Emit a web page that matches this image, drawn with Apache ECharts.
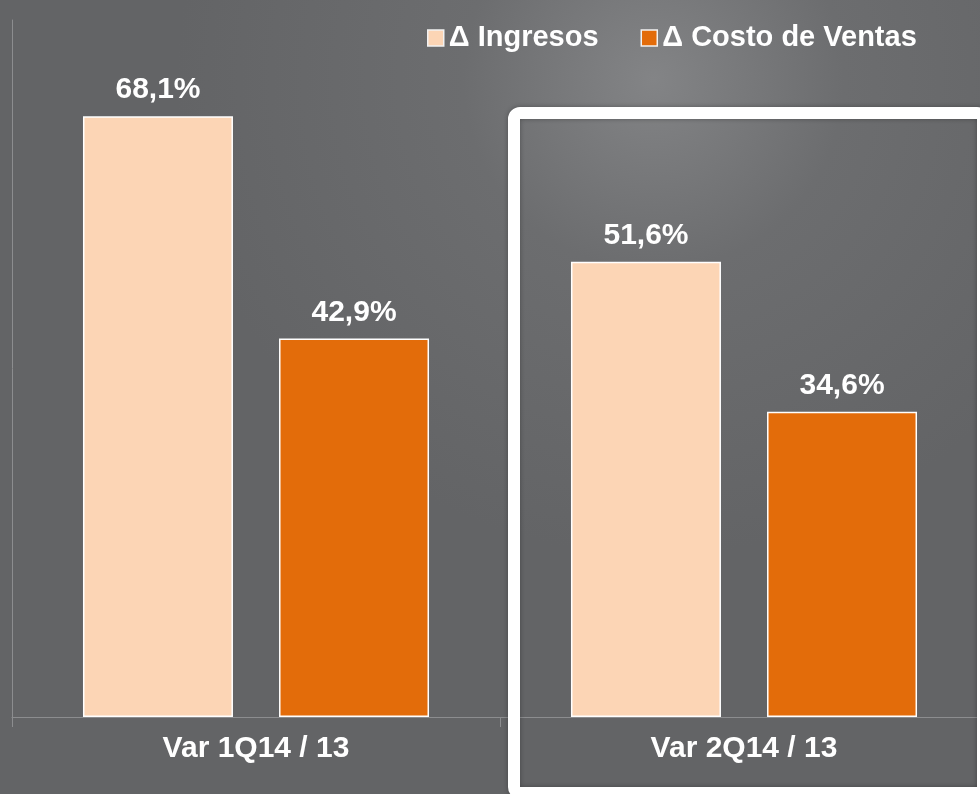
<!DOCTYPE html>
<html>
<head>
<meta charset="utf-8">
<script src="https://cdn.jsdelivr.net/npm/echarts@6/dist/echarts.min.js"></script>
<style>
  html, body { margin: 0; padding: 0; overflow: hidden; }
  #main { width: 990px; height: 794px; }
</style>
</head>
<body>
<div id="main"></div>
<script>
// categorias y valores (variacion %)
var categories = ['Var 1Q14 / 13', 'Var 2Q14 / 13'];
var seriesNames = ['\u0394 Ingresos', '\u0394 Costo de Ventas'];
var ingresos = [68.1, 51.6];
var costo = [42.9, 34.6];

var font = '"Liberation Sans", Arial, sans-serif';
var colorIngresos = '#fcd5b5';
var colorCosto = '#e36c0a';

function fmt(p) {
	return p.value.toFixed(1).replace('.', ',') + '%';
}

var chart = echarts.init(document.getElementById('main'));

var labelStyle = {
	show: true,
	position: 'top',
	distance: 11,
	color: '#fff',
	fontSize: 30,
	fontWeight: 'bold',
	fontFamily: font,
	formatter: fmt
};

var option = {
	animation: false,
	backgroundColor: {
		type: 'radial',
		x: 0.66, y: 0.1, r: 0.6,
		colorStops: [
			{ offset: 0, color: '#838486' },
			{ offset: 0.4, color: '#6c6d6f' },
			{ offset: 1, color: '#636466' }
		]
	},
	legend: {
		left: 427,
		top: 22,
		padding: 0,
		itemWidth: 16,
		itemHeight: 16,
		itemGap: 42,
		icon: 'rect',
		selectedMode: false,
		itemStyle: { borderColor: '#f2f2f2', borderWidth: 1.5 },
		textStyle: {
			color: '#fff',
			fontSize: 29,
			fontWeight: 'bold',
			fontFamily: font,
			lineHeight: 32
		},
		data: seriesNames
	},
	grid: { left: 12, right: 2, top: 20, bottom: 77 },
	xAxis: {
		type: 'category',
		data: categories,
		axisLine: { lineStyle: { color: '#8c8d8f', width: 1 } },
		axisTick: { show: true, length: 10, lineStyle: { color: '#8c8d8f' } },
		axisLabel: {
			margin: 17,
			color: '#fff',
			fontSize: 30,
			fontWeight: 'bold',
			fontFamily: font
		}
	},
	yAxis: {
		type: 'value',
		min: 0,
		max: 79,
		axisLine: { show: true, lineStyle: { color: '#8c8d8f', width: 1 } },
		axisTick: { show: false },
		axisLabel: { show: false },
		splitLine: { show: false }
	},
	series: [{
		name: seriesNames[0],
		type: 'bar',
		barWidth: 150,
		barGap: '30.7%',
		data: ingresos,
		itemStyle: { color: colorIngresos, borderColor: '#fff', borderWidth: 1.5 },
		label: labelStyle
	}, {
		name: seriesNames[1],
		type: 'bar',
		barWidth: 150,
		data: costo,
		itemStyle: { color: colorCosto, borderColor: '#fff', borderWidth: 1.5 },
		label: labelStyle
	}],
	// recuadro blanco que resalta el segundo trimestre
	graphic: [{
		type: 'rect',
		z: 100,
		silent: true,
		shape: { x: 514, y: 113, width: 469, height: 680, r: 6 },
		style: {
			fill: null,
			stroke: '#fff',
			lineWidth: 12,
			shadowBlur: 5,
			shadowColor: 'rgba(0,0,0,0.3)'
		}
	}]
};

chart.setOption(option);
</script>
</body>
</html>
